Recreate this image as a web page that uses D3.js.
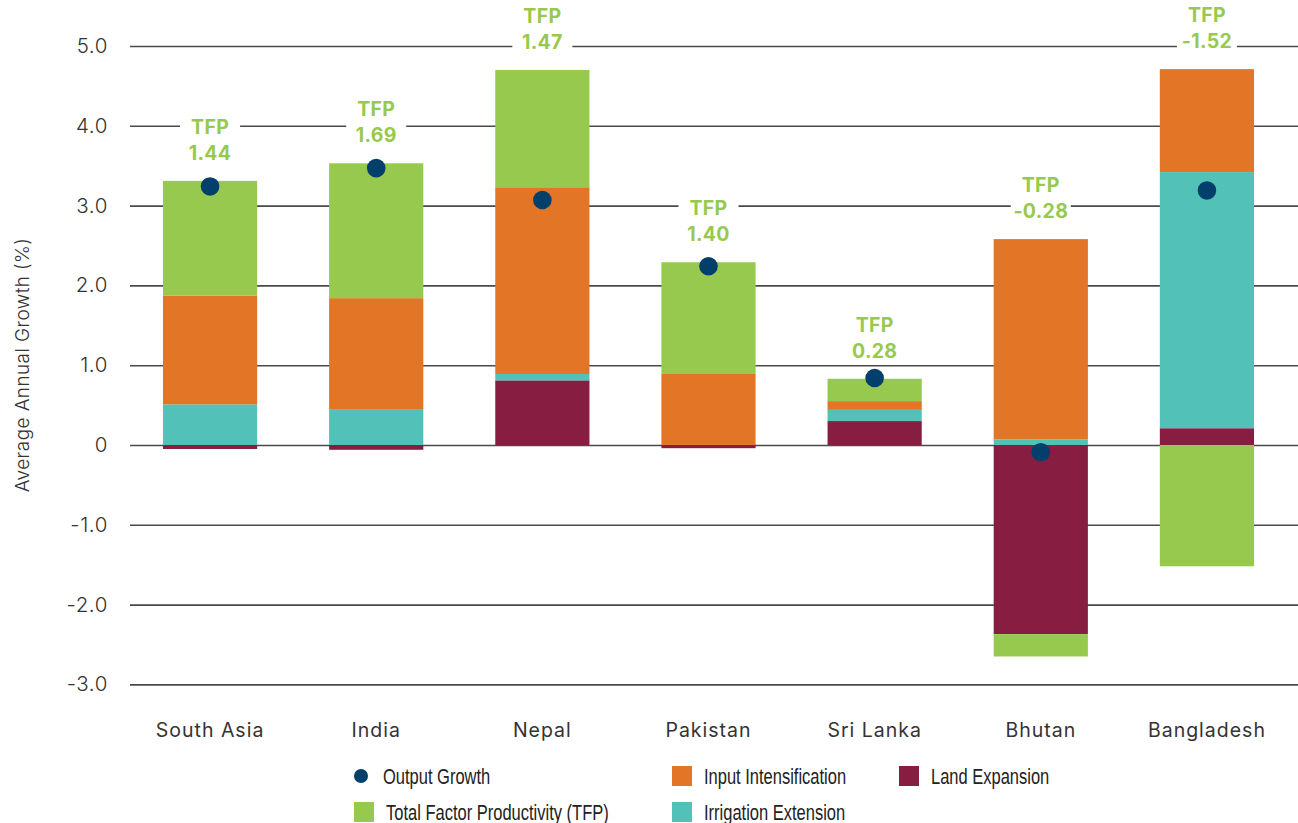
<!DOCTYPE html>
<html><head><meta charset="utf-8">
<script src="https://cdn.jsdelivr.net/npm/d3@7"></script>
<style>
html,body{margin:0;padding:0;background:#fff;}
svg{display:block;}
</style></head>
<body>
<svg id="chart" width="1298" height="823"></svg>
<script>
const categories = ["South Asia","India","Nepal","Pakistan","Sri Lanka","Bhutan","Bangladesh"];
const landExpansion = [-0.05,-0.06,0.81,-0.04,0.30,-2.37,0.21];
const irrigationExtension = [0.51,0.45,0.08,0.00,0.14,0.07,3.21];
const inputIntensification = [1.36,1.39,2.34,0.89,0.11,2.51,1.29];
const tfp = [1.44,1.69,1.47,1.40,0.28,-0.28,-1.52];
const outputGrowth = [3.24,3.47,3.07,2.24,0.84,-0.09,3.19];
const tfpLabels = ["1.44","1.69","1.47","1.40","0.28","-0.28","-1.52"];
const yTicks = [5,4,3,2,1,0,-1,-2,-3];
const yTickLabels = ["5.0","4.0","3.0","2.0","1.0","0","-1.0","-2.0","-3.0"];

const colors = {land:"#871e41", irr:"#52c2b8", input:"#e37527", tfp:"#97c94e", dot:"#033f6b"};
const keys = ["land","irr","input","tfp"];
const rows = categories.map((c,i)=>({cat:c, land:landExpansion[i], irr:irrigationExtension[i], input:inputIntensification[i], tfp:tfp[i], out:outputGrowth[i], lab:tfpLabels[i]}));

const svg = d3.select("#chart");
const x = d3.scaleBand().domain(categories).range([127,1290]).paddingInner(0.433).paddingOuter(0.2165);
const y = d3.scaleLinear().domain([-3,5]).range([684.4,46]);
const mainFont = "Inter, 'Open Sans', sans-serif";

// gridlines + tick labels
const yAxis = d3.axisLeft(y).tickValues(yTicks).tickSize(-(1298-130)).tickFormat((d,i)=>yTickLabels[i]).tickPadding(22);
const ga = svg.append("g").attr("transform","translate(130,0)").call(yAxis);
ga.select(".domain").remove();
ga.selectAll(".tick line").attr("stroke","#4a4a4a").attr("stroke-width",1.6);
ga.selectAll(".tick text").attr("font-family",mainFont).attr("font-size",20.5).attr("font-weight",300).attr("fill","#333").attr("x",-22).attr("letter-spacing",0.6);

svg.append("text").attr("transform","translate(29,365) rotate(-90)").attr("text-anchor","middle")
  .attr("font-family",mainFont).attr("font-size",19).attr("font-weight",300).attr("fill","#333").attr("letter-spacing",0.4)
  .text("Average Annual Growth (%)");

// stacked bars
const stack = d3.stack().keys(keys).offset(d3.stackOffsetDiverging);
const series = stack(rows);
svg.append("g").selectAll("g").data(series).join("g").attr("fill",d=>colors[d.key])
  .selectAll("rect").data(d=>d).join("rect")
  .attr("x",d=>x(d.data.cat)).attr("width",x.bandwidth())
  .attr("y",d=>y(Math.max(d[0],d[1]))).attr("height",d=>Math.abs(y(d[0])-y(d[1])));

// output dots
svg.append("g").selectAll("circle").data(rows).join("circle")
  .attr("cx",d=>x(d.cat)+x.bandwidth()/2).attr("cy",d=>y(d.out)).attr("r",9.3).attr("fill",colors.dot);

// TFP labels
const topPos = rows.map(r=>keys.reduce((s,k)=>s+Math.max(0,r[k]),0));
const lg = svg.append("g").selectAll("g").data(rows).join("g")
  .attr("transform",(d,i)=>`translate(${x(d.cat)+x.bandwidth()/2},${y(topPos[i])})`);
lg.append("rect").attr("x",-30).attr("y",-70).attr("width",60).attr("height",54).attr("fill","#fff");
lg.append("text").attr("y",-54).attr("dy","0.35em").attr("text-anchor","middle")
  .attr("font-family",mainFont).attr("font-weight",700).attr("font-size",19.5).attr("fill",colors.tfp).attr("letter-spacing",0.3).text("TFP");
lg.append("text").attr("y",-28).attr("dy","0.35em").attr("text-anchor","middle")
  .attr("font-family",mainFont).attr("font-weight",700).attr("font-size",19.5).attr("fill",colors.tfp).attr("letter-spacing",0.3).text(d=>d.lab);

// x labels
svg.append("g").selectAll("text").data(categories).join("text")
  .attr("x",d=>x(d)+x.bandwidth()/2).attr("y",730).attr("dy","0.35em").attr("text-anchor","middle")
  .attr("font-family",mainFont).attr("font-size",19.5).attr("font-weight",400).attr("fill","#333").attr("letter-spacing",1)
  .text(d=>d);

// legend
const legendItems = [
  {label:"Output Growth", type:"dot", c:colors.dot, x:361, y:776},
  {label:"Input Intensification", type:"sq", c:colors.input, x:682, y:776},
  {label:"Land Expansion", type:"sq", c:colors.land, x:909, y:776},
  {label:"Total Factor Productivity (TFP)", type:"sq", c:colors.tfp, x:364, y:812},
  {label:"Irrigation Extension", type:"sq", c:colors.irr, x:682, y:812}
];
const lgd = svg.append("g");
legendItems.forEach(it=>{
  if(it.type==="dot") lgd.append("circle").attr("cx",it.x).attr("cy",it.y).attr("r",7).attr("fill",it.c);
  else lgd.append("rect").attr("x",it.x-10).attr("y",it.y-10).attr("width",20).attr("height",20).attr("fill",it.c);
  lgd.append("text").attr("transform",`translate(${it.x+22},${it.y}) scale(0.75,1)`).attr("dy","0.35em")
    .attr("font-family","'Liberation Sans', Arial, sans-serif").attr("font-size",22).attr("fill","#222")
    .text(it.label);
});
</script>
</body></html>
